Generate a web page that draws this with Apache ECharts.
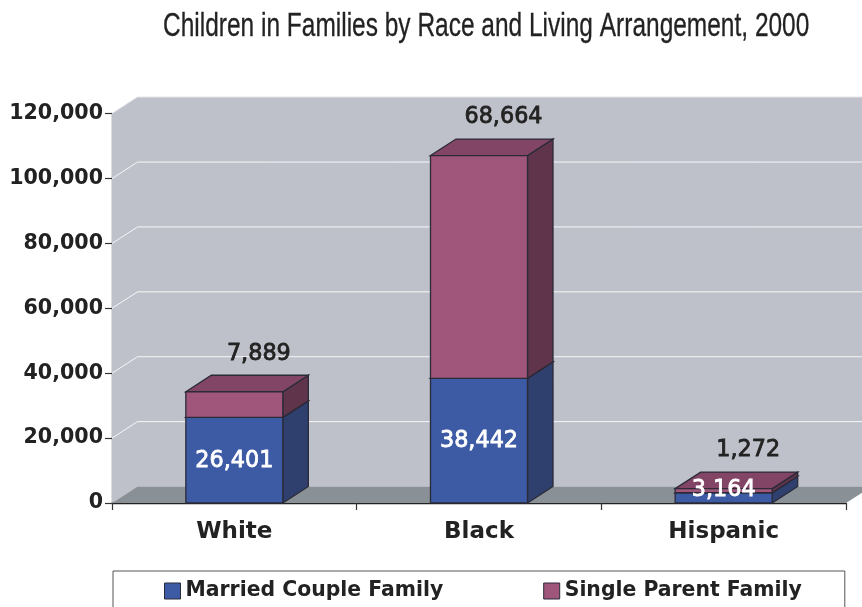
<!DOCTYPE html>
<html><head><meta charset="utf-8">
<style>html,body{margin:0;padding:0;background:#fff}#c{width:862px;height:607px}</style>
<script src="https://cdn.jsdelivr.net/npm/echarts@6/dist/echarts.min.js"></script>
</head><body><div id="c"></div>
<script>
const titleText = 'Children in Families by Race and Living Arrangement, 2000';
const categories = ['White', 'Black', 'Hispanic'];
const married = [26401, 38442, 3164];
const single = [7889, 68664, 1272];
const yTicks = [0, 20000, 40000, 60000, 80000, 100000, 120000];
const marriedName = 'Married Couple Family';
const singleName = 'Single Parent Family';

const DX = 25.5, DY = 16.5, BAR = 97;
const fmt = v => v.toLocaleString('en-US');
const edge = '#2b2b38';
const FONT = '"DejaVu Sans"';

function poly(points, fill, stroke, lw) {
  return { type: 'polygon', shape: { points }, style: { fill, stroke: stroke || null, lineWidth: lw || 0 } };
}
function wallItem(params, api) {
  const cs = params.coordSys, v = api.value(0);
  const y = api.coord([0, v])[1], L = cs.x, R = cs.x + cs.width;
  const children = [];
  if (params.dataIndex === 0) {
    const top = api.coord([0, yTicks[yTicks.length - 1]])[1];
    children.push(poly([[L, top], [L + DX, top - DY], [R + DX, top - DY], [R + DX, y - DY], [L + DX, y - DY], [L, y]], '#bec1c9'));
    children.push(poly([[L, y], [L + DX, y - DY], [R + DX, y - DY], [R, y]], '#8a9196'));
    return { type: 'group', children };
  }
  children.push({ type: 'polyline', shape: { points: [[L, y], [L + DX, y - DY], [R + DX, y - DY]] },
    style: { fill: null, stroke: v === yTicks[yTicks.length - 1] ? '#d4d6da' : '#f6f7f8', lineWidth: 1 } });
  return { type: 'group', children };
}
function barItem(colors, mode) {
  return function (params, api) {
    const c = api.value(0), lo = api.value(1), hi = api.value(2);
    const cx = api.coord([c, 0])[0], yZero = api.coord([c, 0])[1];
    const y0 = api.coord([c, lo])[1], y1 = api.coord([c, hi])[1];
    const l = cx - BAR / 2, r = cx + BAR / 2;
    const val = fmt(hi - lo);
    const children = [
      poly([[r, y0], [r + DX, y0 - DY], [r + DX, y1 - DY], [r, y1]], colors.side, edge, 1.3),
      poly([[l, y1], [l + DX, y1 - DY], [r + DX, y1 - DY], [r, y1]], colors.top, edge, 1.3),
      poly([[l, y0], [r, y0], [r, y1], [l, y1]], colors.front, edge, 1.3)
    ];
    const t = mode === 'inner'
      ? { x: cx, y: Math.min((y0 + y1) / 2 + 1, yZero - 13), fill: '#ffffff' }
      : { x: cx + 24.5, y: y1 - 38, fill: '#222222' };
    children.push({ type: 'text', z2: 100, style: { text: val, x: t.x, y: t.y, align: 'center', verticalAlign: 'middle',
      fill: t.fill, font: '500 22.3px ' + FONT, stroke: t.fill, lineWidth: 0.8 } });
    return { type: 'group', children };
  };
}
const marriedData = married.map((v, i) => [i, 0, v]);
const singleData = single.map((v, i) => [i, married[i], married[i] + v]);

const chart = echarts.init(document.getElementById('c'), null, { renderer: 'canvas' });
chart.setOption({
  animation: false,
  backgroundColor: '#ffffff',
  graphic: [{ type: 'text', x: 163, y: 10, scaleX: 0.72, z: 10,
    style: { text: titleText, fill: '#222222', font: '34px "Liberation Sans"', stroke: '#222222', lineWidth: 0.3 } }],
  grid: { left: 112, right: 16, top: 113.7, bottom: 104 },
  xAxis: { type: 'category', data: categories,
    axisLine: { show: true, lineStyle: { color: '#222222', width: 1.3 } },
    axisTick: { show: true, length: 7, lineStyle: { color: '#333333', width: 1.2 } },
    axisLabel: { color: '#222222', fontFamily: FONT, fontWeight: 'bold', fontSize: 23, margin: 18 } },
  yAxis: { type: 'value', min: 0, max: 120000, interval: 20000,
    splitLine: { show: false },
    axisLine: { show: true, lineStyle: { color: '#222222', width: 1.3 } },
    axisTick: { show: true, length: 7, lineStyle: { color: '#333333', width: 1.2 } },
    axisLabel: { color: '#222222', fontFamily: FONT, fontWeight: 'bold', fontSize: 20.6, margin: 9, padding: [2, 0, 0, 0], formatter: fmt } },
  legend: { data: [
      { name: marriedName, itemStyle: { color: '#3d5aa5', borderColor: edge, borderWidth: 1 } },
      { name: singleName, itemStyle: { color: '#a0557a', borderColor: edge, borderWidth: 1 } }
    ],
    left: 113, top: 571, orient: 'horizontal', icon: 'rect',
    itemWidth: 16, itemHeight: 16, itemGap: 100,
    padding: [10, 43, 10, 51], borderColor: '#555555', borderWidth: 1, borderRadius: 0,
    selectedMode: false,
    textStyle: { color: '#222222', fontFamily: FONT, fontWeight: 'bold', fontSize: 20.4 } },
  series: [
    { type: 'custom', name: 'walls', silent: true, z: 1, data: yTicks.map(v => [v]), encode: { y: 0 }, renderItem: wallItem },
    { type: 'custom', name: marriedName, z: 2, itemStyle: { color: '#3d5aa5' }, data: marriedData, encode: { x: 0, y: [1, 2] },
      renderItem: barItem({ front: '#3d5aa5', side: '#2f3f6e', top: '#33487f' }, 'inner') },
    { type: 'custom', name: singleName, z: 2, itemStyle: { color: '#a0557a' }, data: singleData, encode: { x: 0, y: [1, 2] },
      renderItem: barItem({ front: '#a0557a', side: '#60344a', top: '#824566' }, 'outer') }
  ]
});
</script></body></html>
